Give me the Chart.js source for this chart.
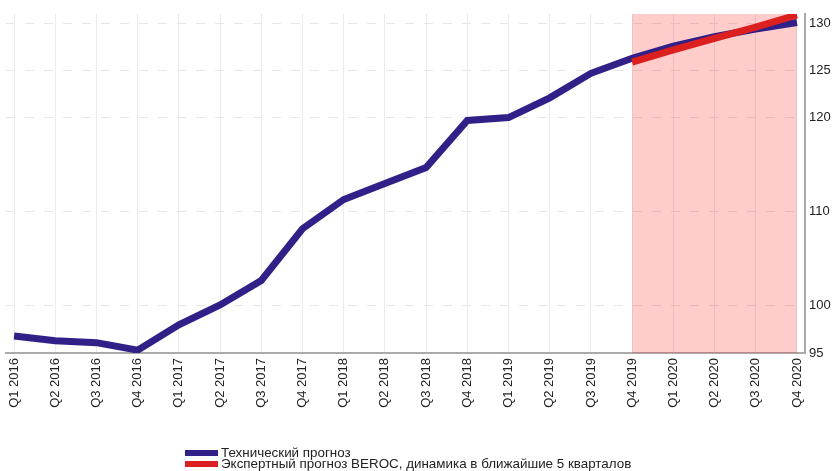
<!DOCTYPE html>
<html>
<head>
<meta charset="utf-8">
<script src="https://cdn.jsdelivr.net/npm/chart.js@4"></script>
<style>
  body { margin: 0; background: #fff; }
  #wrap { position: relative; width: 832px; height: 471px; }
  #legend { position: absolute; left: 185px; top: 447px; font: 13.4px "Liberation Sans", Arial, sans-serif; color: #222; }
  #legend div { height: 11px; line-height: 11px; white-space: nowrap; }
  #legend span.box { display: inline-block; width: 33px; height: 6px; margin-right: 3px; vertical-align: 1px; }
</style>
</head>
<body>
<div id="wrap">
  <canvas id="c" width="832" height="471"></canvas>
  <div id="legend"></div>
</div>
<script>
// quarters on the x axis
const quarters = ['Q1 2016', 'Q2 2016', 'Q3 2016', 'Q4 2016',
    'Q1 2017', 'Q2 2017', 'Q3 2017', 'Q4 2017',
    'Q1 2018', 'Q2 2018', 'Q3 2018', 'Q4 2018',
    'Q1 2019', 'Q2 2019', 'Q3 2019', 'Q4 2019',
    'Q1 2020', 'Q2 2020', 'Q3 2020', 'Q4 2020']

// technical forecast (blue)
const technical = [96.8, 96.3, 96.1, 95.3, 98.0, 100.1, 102.7, 108.2, 111.3, 113.0,
    114.7, 119.7, 120.0, 122.1, 124.7, 126.3, 127.6, 128.6, 129.4, 130.1]

// expert forecast BEROC (red), only the last 5 quarters
const expert = [null, null, null, null, null, null, null, null, null, null,
    null, null, null, null, null, 125.9, 127.2, 128.4, 129.6, 130.9]

const yTicks = [95, 100, 110, 120, 125, 130]
const forecastFrom = 'Q4 2019'
const forecastTo = 'Q4 2020'

const labelTech = 'Технический прогноз'
const labelExpert = 'Экспертный прогноз BEROC, динамика в ближайшие 5 кварталов'

const font = '"Liberation Sans", Arial, sans-serif'

// pink band behind the forecast quarters
const bandPlugin = {
    id: 'band',
    beforeDatasetsDraw(chart) {
        let x = chart.scales.x
        let area = chart.chartArea
        let x0 = x.getPixelForValue(quarters.indexOf(forecastFrom))
        let x1 = x.getPixelForValue(quarters.indexOf(forecastTo))
        let ctx = chart.ctx
        ctx.save()
        ctx.fillStyle = 'rgba(255, 0, 0, 0.2)'
        ctx.fillRect(x0, area.top, x1 - x0, area.bottom - area.top)
        ctx.restore()
    }
}

var chart = new Chart(document.getElementById('c'), {
    type: 'line',
    data: {
        datasets: [{
            label: labelExpert,
            data: expert.map((v, i) => ({x: i, y: v})),
            borderColor: '#dc2020',
            borderWidth: 7,
            order: 0
        },
        {
            label: labelTech,
            data: technical.map((v, i) => ({x: i, y: v})),
            borderColor: '#312087',
            borderWidth: 7,
            order: 1
        }]
    },
    options: {
        responsive: false,
        animation: false,
        spanGaps: false,
        elements: { point: { radius: 0 }, line: { tension: 0 } },
        layout: { padding: { left: 6, top: 14, right: 0, bottom: 58 } },
        plugins: { legend: { display: false }, tooltip: { enabled: false } },
        scales: {
            x: {
                type: 'linear',
                min: -0.195,
                max: 19.195,
                afterBuildTicks: s => { s.ticks = quarters.map((q, i) => ({value: i})) },
                afterFit: s => { s.height = 60 },
                grid: { color: '#ebebeb', lineWidth: 1, drawTicks: false },
                border: { display: true, color: '#aaaaaa', width: 2 },
                ticks: {
                    autoSkip: false,
                    maxRotation: 90,
                    minRotation: 90,
                    padding: 5,
                    color: '#222',
                    font: { family: font, size: 13 },
                    callback: v => quarters[v]
                }
            },
            y: {
                position: 'right',
                min: 95,
                max: 131,
                afterBuildTicks: s => { s.ticks = yTicks.map(v => ({value: v})) },
                afterFit: s => { s.width = 27 },
                grid: { color: '#e6e6e6', lineWidth: 1, drawTicks: false },
                border: { display: true, color: '#aaaaaa', width: 2, dash: [9, 10] },
                ticks: {
                    padding: 4,
                    color: '#222',
                    font: { family: font, size: 13 }
                }
            }
        }
    },
    plugins: [bandPlugin]
})

// legend stacked under the chart
let legend = document.getElementById('legend')
;[[labelTech, '#312087'], [labelExpert, '#dc2020']].forEach(([t, c]) => {
    let row = document.createElement('div')
    row.innerHTML = '<span class="box" style="background:' + c + '"></span>' + t
    legend.appendChild(row)
})
</script>
</body>
</html>
